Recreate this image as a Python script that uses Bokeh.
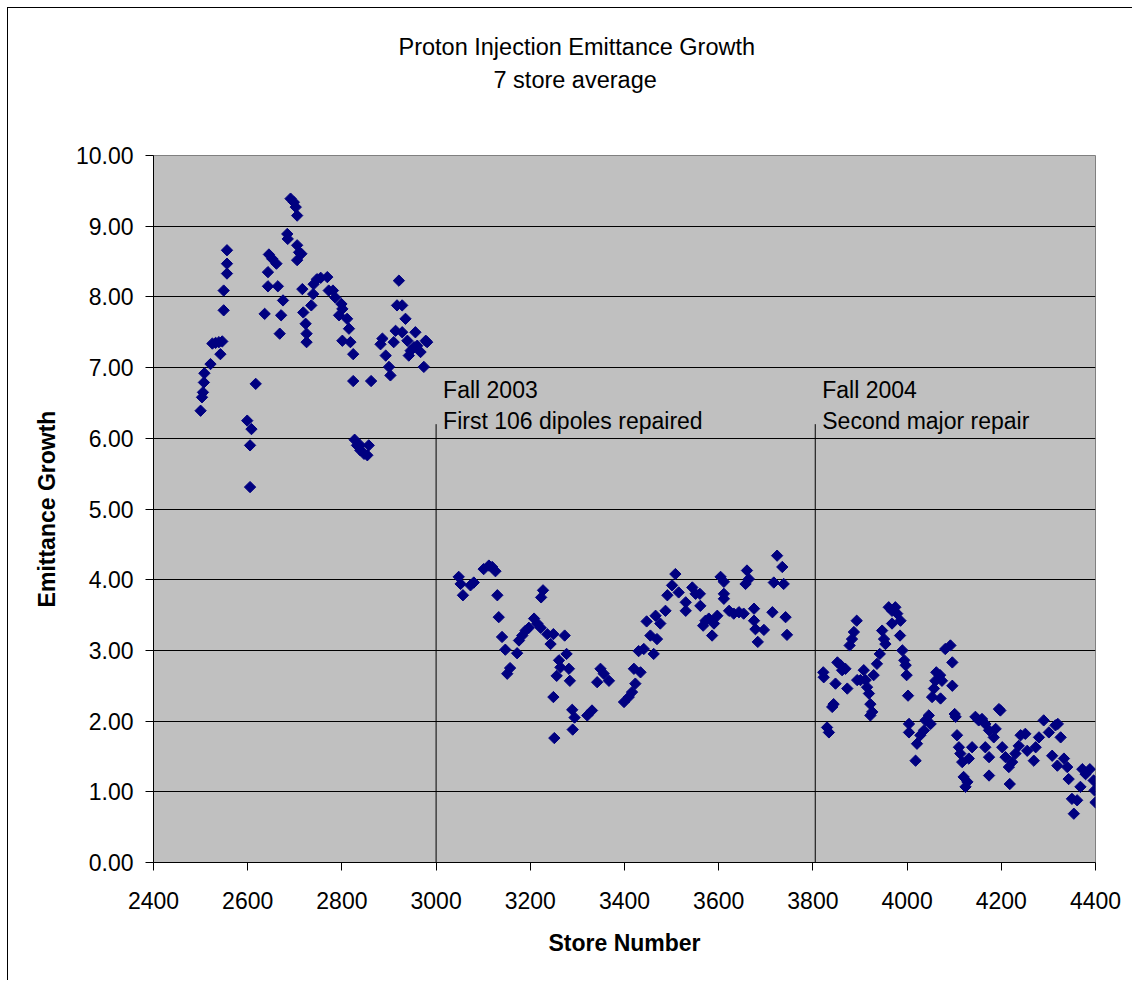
import math
from bokeh.plotting import figure
from bokeh.models import Label, Title, NumeralTickFormatter, FixedTicker, Range1d, ColumnDataSource
from bokeh.embed import file_html
from bokeh.resources import INLINE

# ---- data ----
stores_before_2003 = [2500,2503,2505,2507,2508,2521,2525,2532,2539,2546,
                      2542,2549,2549,2556,2556,2556,2599,2608,2605,2605,
                      2617,2636,2643,2643,2645,2652,2661,2664,2675,2671,
                      2668,2684,2685,2691,2698,2702,2705,2705,2709,2714,
                      2705,2716,2718,2723,2725,2725,2735,2739,2740,2747,
                      2755,2769,2772,2781,2786,2799,2801,2794,2811,2815,
                      2801,2818,2824,2824,2827,2832,2839,2854,2857,2862,
                      2882,2886,2893,2900,2903,2910,2914,2921,2917,2928,
                      2935,2928,2939,2946,2956,2960,2967,2974,2978,2981,
                      2953,2942,2839,2847]
growth_before_2003 = [6.39,6.58,6.65,6.79,6.92,7.05,7.34,7.35,7.36,7.37,
                      7.19,7.81,8.09,8.33,8.47,8.66,6.25,6.13,5.90,5.31,
                      6.77,7.76,8.15,8.35,8.60,8.54,8.47,8.15,7.95,7.74,
                      7.48,8.89,8.82,9.39,9.34,9.27,9.15,8.73,8.63,8.61,
                      8.52,8.11,7.78,7.62,7.48,7.36,7.88,8.04,8.18,8.25,
                      8.27,8.28,8.09,8.09,7.99,7.90,7.83,7.74,7.69,7.55,
                      7.38,7.36,7.19,6.81,5.98,5.90,5.83,5.76,5.90,6.81,
                      7.33,7.41,7.17,7.01,6.89,7.36,7.52,8.23,7.88,7.88,
                      7.69,7.50,7.38,7.24,7.50,7.31,7.22,7.01,7.38,7.36,
                      7.29,7.17,5.90,5.78]

stores_2003_2004 = [3048,3052,3057,3073,3080,3101,3112,3119,3126,3130,
                    3133,3140,3147,3151,3157,3172,3176,3183,3190,3197,
                    3208,3215,3222,3227,3223,3236,3243,3249,3249,3251,
                    3261,3264,3256,3273,3277,3282,3284,3289,3294,3290,
                    3321,3331,3342,3349,3356,3367,3399,3409,3416,3423,
                    3420,3434,3430,3441,3455,3462,3469,3447,3466,3476,
                    3487,3491,3501,3508,3515,3530,3530,3544,3551,3560,
                    3561,3567,3572,3579,3586,3590,3597,3604,3611,3611,
                    3611,3622,3632,3643,3653,3657,3660,3664,3675,3675,
                    3678,3683,3696,3714,3717,3724,3735,3738,3742,3745]
growth_2003_2004 = [4.04,3.94,3.78,3.92,3.96,4.15,4.20,4.18,4.12,3.78,
                    3.47,3.19,3.01,2.67,2.75,2.96,3.14,3.21,3.28,3.32,
                    3.45,3.38,3.32,3.85,3.75,3.23,3.09,3.23,2.34,1.76,
                    2.86,2.76,2.64,3.21,2.95,2.74,2.57,2.16,2.05,1.88,
                    2.08,2.15,2.55,2.74,2.67,2.57,2.27,2.34,2.41,2.53,
                    2.74,2.69,2.99,3.02,3.21,2.95,3.16,3.41,3.49,3.38,
                    3.56,3.78,3.92,4.08,3.82,3.68,3.56,3.89,3.80,3.80,
                    3.63,3.35,3.42,3.45,3.21,3.38,3.49,4.04,3.97,3.80,
                    3.73,3.56,3.52,3.54,3.52,3.94,4.13,4.01,3.59,3.42,
                    3.30,3.12,3.29,3.54,3.96,4.34,4.18,3.94,3.47,3.22]

stores_after_2004 = [3822,3823,3830,3834,3841,3844,3852,3859,3862,3869,
                     3848,3873,3878,3883,3887,3893,3894,3901,3908,3912,
                     3915,3919,3922,3922,3926,3929,3936,3942,3947,3951,
                     3954,3961,3968,3975,3979,3986,3968,3985,3990,3994,
                     3997,3999,4002,4004,4004,4018,4021,4028,4036,4039,
                     4046,4050,4053,4057,4060,4062,4070,4074,4071,4081,
                     4092,4096,4096,4101,4103,4106,4110,4113,4117,4120,
                     4124,4128,4131,4138,4145,4152,4159,4166,4174,4166,
                     4174,4174,4184,4188,4195,4198,4202,4209,4216,4218,
                     4223,4230,4237,4241,4251,4255,4269,4273,4280,4290,
                     4301,4308,4315,4320,4326,4319,4333,4340,4343,4350,
                     4354,4361,4368,4372,4379,4388,4396,4398,4400]
growth_after_2004 = [2.69,2.62,1.91,1.84,2.20,2.24,2.83,2.79,2.72,2.74,
                     2.53,2.46,3.07,3.16,3.26,3.42,2.58,2.58,2.72,2.58,
                     2.48,2.39,2.24,2.08,2.13,2.65,2.81,2.95,3.28,3.16,
                     3.09,3.61,3.56,3.61,3.52,3.42,3.38,3.21,3.00,2.86,
                     2.79,2.65,2.36,1.96,1.84,1.44,1.68,1.80,1.87,2.01,
                     2.08,1.96,2.34,2.46,2.57,2.69,2.65,2.57,2.32,3.02,
                     3.07,2.83,2.50,2.10,2.06,1.80,1.63,1.54,1.42,1.21,
                     1.07,1.14,1.47,1.63,2.06,2.01,2.03,1.96,1.87,1.63,
                     1.49,1.23,1.77,1.89,2.17,2.15,1.63,1.49,1.35,1.11,
                     1.42,1.54,1.65,1.80,1.82,1.58,1.44,1.63,1.77,2.01,
                     1.84,1.51,1.94,1.96,1.77,1.37,1.47,1.35,1.18,0.90,
                     0.69,0.88,1.07,1.32,1.25,1.32,1.16,1.02,0.85]

repair_store = [3000, 3805]
repair_line_top = [6.2, 6.2]
repair_line_bottom = [0, 0]
repair_labels = [("Fall 2003", "First 106 dipoles repaired"),
                 ("Fall 2004", "Second major repair")]

x_ticks = [2400, 2600, 2800, 3000, 3200, 3400, 3600, 3800, 4000, 4200, 4400]
y_ticks = [0, 1, 2, 3, 4, 5, 6, 7, 8, 9, 10]

FONT = "Liberation Sans"

store = stores_before_2003 + stores_2003_2004 + stores_after_2004
growth = growth_before_2003 + growth_2003_2004 + growth_after_2004
src = ColumnDataSource(dict(store=store, growth=growth))

p = figure(width=1125, height=973, output_backend="svg", toolbar_location=None,
           x_range=Range1d(2400, 4400), y_range=Range1d(0, 10),
           min_border_left=145, min_border_right=38,
           min_border_top=147, min_border_bottom=119)
p.styles = {"margin-left": "7px", "margin-top": "7px",
            "border-left": "1px solid black", "border-top": "1px solid black"}
p.background_fill_color = "#C0C0C0"
p.border_fill_color = "white"
p.outline_line_color = "#808080"
p.outline_line_width = 1

p.xgrid.visible = False
p.ygrid.ticker = FixedTicker(ticks=y_ticks[1:-1])
p.ygrid.grid_line_color = "black"
p.ygrid.grid_line_width = 1

for ax in (p.xaxis[0], p.yaxis[0]):
    ax.axis_line_color = "black"
    ax.major_tick_line_color = "black"
    ax.major_tick_out = 8
    ax.major_tick_in = 0
    ax.minor_tick_out = 0
    ax.minor_tick_in = 0
    ax.major_label_text_font = FONT
    ax.major_label_text_font_size = "23px"
    ax.major_label_text_color = "black"
    ax.axis_label_text_font = FONT
    ax.axis_label_text_font_size = "23px"
    ax.axis_label_text_font_style = "bold"
    ax.axis_label_text_color = "black"

p.xaxis.ticker = FixedTicker(ticks=x_ticks)
p.yaxis.ticker = FixedTicker(ticks=y_ticks)
p.yaxis.formatter = NumeralTickFormatter(format="0.00")
p.xaxis.axis_label = "Store Number"
p.yaxis.axis_label = "Emittance Growth"
p.xaxis.major_label_standoff = 21
p.yaxis.major_label_standoff = 12
p.xaxis.axis_label_standoff = 18
p.yaxis.axis_label_standoff = 13

# repair markers
p.segment(x0=repair_store, y0=repair_line_bottom, x1=repair_store, y1=repair_line_top,
          line_color="black", line_width=1)

p.scatter(x="store", y="growth", source=src, marker="square", angle=math.pi / 4,
          size=8, fill_color="#000080", line_color="#000080")

for xs, (l1, l2) in zip(repair_store, repair_labels):
    p.add_layout(Label(x=xs, y=6.69, x_offset=7, text=l1, text_font=FONT,
                       text_font_size="23px", text_color="black", text_baseline="alphabetic"))
    p.add_layout(Label(x=xs, y=6.24, x_offset=7, text=l2, text_font=FONT,
                       text_font_size="23px", text_color="black", text_baseline="alphabetic"))

# chart title (two lines); a blank spacer keeps them clear of the plot frame
p.add_layout(Title(text=" ", standoff=35, text_font=FONT, text_font_size="23px"), "above")
p.add_layout(Title(text="7 store average", align="left", offset=340, standoff=0,
                   text_font=FONT, text_font_size="23.5px", text_font_style="normal",
                   text_color="black"), "above")
p.add_layout(Title(text="Proton Injection Emittance Growth", align="left", offset=245,
                   standoff=10, text_font=FONT, text_font_size="23.5px",
                   text_font_style="normal", text_color="black"), "above")

open("out.html", "w").write(file_html(p, INLINE))
